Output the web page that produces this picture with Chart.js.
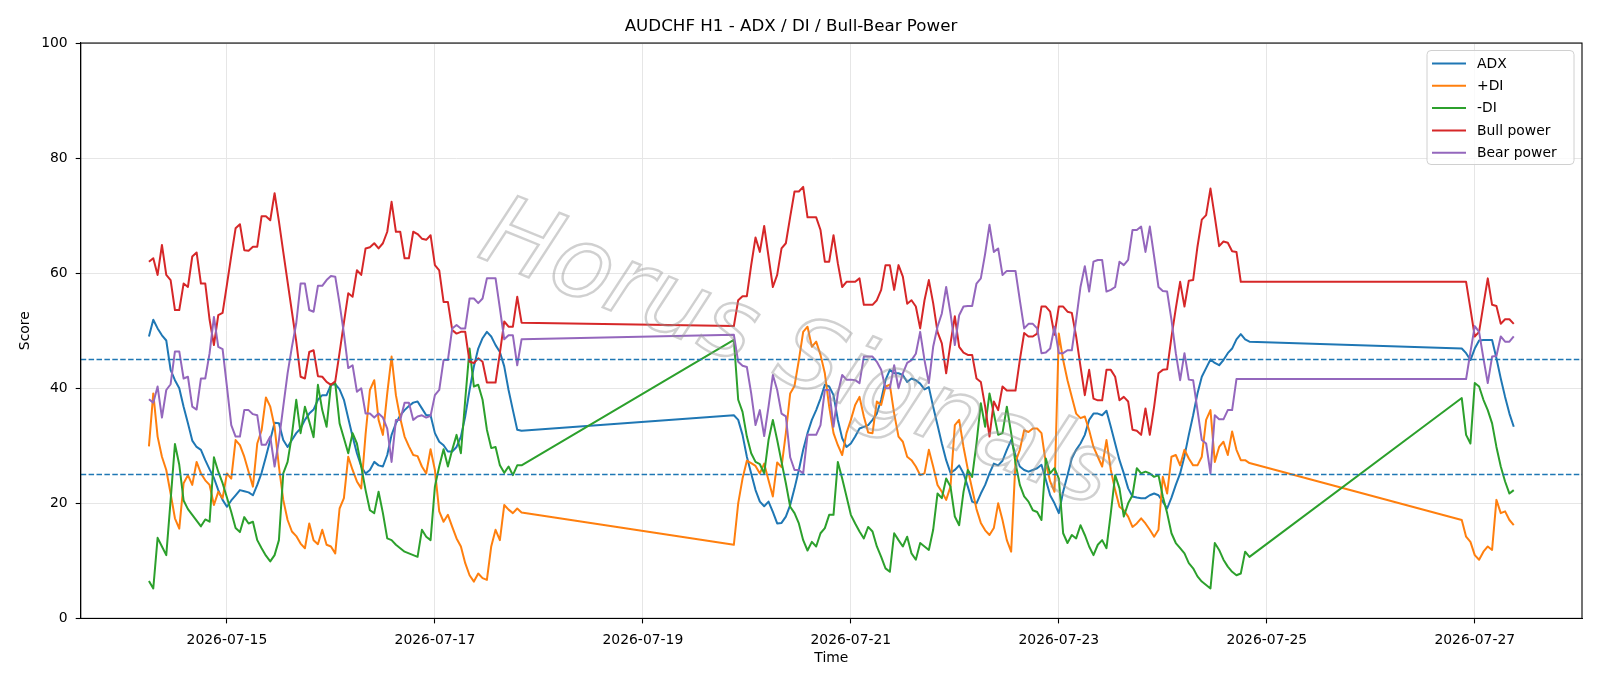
<!DOCTYPE html>
<html>
<head>
<meta charset="utf-8">
<script src="https://cdn.jsdelivr.net/npm/chart.js@4.4.1/dist/chart.umd.min.js"></script>
<style>
  html, body { margin: 0; padding: 0; background: #ffffff; }
  #wrap { width: 1600px; height: 686px; }
</style>
</head>
<body>
<div id="wrap"><canvas id="c" width="1600" height="686"></canvas></div>
<script>
// ---------------- data ----------------
const segmentStarts  = ["2026-07-14T06:00:00Z", "2026-07-19T21:00:00Z", "2026-07-26T21:00:00Z"];
const segmentLengths = [87, 120, 13];   // hourly bars per trading block

const xTickLabels = ["2026-07-15", "2026-07-17", "2026-07-19", "2026-07-21", "2026-07-23", "2026-07-25", "2026-07-27"];
const yTickValues = [0, 20, 40, 60, 80, 100];
const thresholds  = [25, 45];

const adx = [
  49.0, 51.9, 50.4, 49.2, 48.3, 43.2, 41.4, 40.0, 36.8, 33.9,
  30.9, 29.8, 29.3, 27.5, 25.9, 24.4, 22.3, 20.6, 19.4, 20.5,
  21.4, 22.3, 22.1, 21.9, 21.4, 23.2, 25.3, 28.1, 31.0, 34.0,
  33.9, 31.0, 29.8, 31.0, 32.2, 33.0, 34.5, 35.6, 36.3, 38.0,
  38.8, 38.8, 40.6, 40.7, 39.8, 38.0, 34.8, 31.6, 28.7, 26.4,
  25.2, 25.8, 27.2, 26.6, 26.4, 28.4, 31.9, 33.9, 35.3, 36.2,
  36.9, 37.5, 37.7, 36.5, 35.3, 35.3, 32.2, 30.7, 30.1, 29.0,
  29.0, 29.8, 31.6, 35.1, 39.7, 43.8, 46.9, 48.7, 49.8, 49.0,
  47.5, 46.3, 43.8, 39.7, 36.2, 32.8, 32.6,
  35.3, 34.5, 31.9, 28.1, 25.2, 22.3, 20.3, 19.5, 20.3, 18.5,
  16.5, 16.6, 17.7, 19.7, 22.6, 25.8, 29.3, 32.2, 34.5, 36.2,
  38.2, 40.6, 40.3, 38.8, 34.5, 31.3, 29.8, 30.4, 31.6, 33.0,
  33.3, 33.6, 34.5, 35.6, 38.0, 41.4, 43.2, 42.6, 42.6, 42.3,
  41.1, 41.7, 41.4, 40.8, 39.8, 40.2, 36.8, 33.6, 30.4, 27.5,
  25.3, 25.8, 26.6, 25.2, 22.9, 20.3, 20.0, 21.7, 23.2, 25.2,
  26.9, 26.6, 27.4, 29.3, 31.0, 28.4, 26.4, 25.8, 25.5, 25.8,
  26.1, 26.7, 24.1, 21.4, 20.0, 18.3, 22.0, 24.9, 27.8, 29.3,
  30.4, 31.9, 34.5, 35.6, 35.6, 35.3, 36.1, 33.3, 30.4, 27.5,
  25.2, 22.6, 21.2, 21.0, 20.9, 20.9, 21.4, 21.7, 21.4, 20.3,
  19.1, 21.0, 23.2, 25.2, 28.2, 31.9, 35.3, 39.1, 42.0, 43.5,
  45.0, 44.4, 44.0, 44.9, 46.1, 46.9, 48.5, 49.4, 48.5, 48.1,
  46.9, 46.1, 44.9, 46.9, 48.3, 48.4, 48.4, 48.4, 45.2, 41.7, 38.5, 35.6, 33.3
];

const plusDI = [
  29.9, 39.1, 31.6, 28.1, 25.8, 21.7, 17.4, 15.6, 23.5, 24.9,
  23.2, 27.2, 25.2, 24.0, 23.2, 19.7, 22.0, 20.9, 25.2, 24.3,
  31.0, 30.1, 28.1, 25.5, 22.9, 30.4, 32.7, 38.4, 36.8, 33.3,
  26.4, 20.6, 17.1, 15.1, 14.3, 13.0, 12.2, 16.5, 13.6, 12.9,
  15.4, 12.8, 12.5, 11.3, 19.1, 20.9, 28.1, 25.8, 23.8, 22.6,
  32.0, 39.7, 41.4, 34.5, 31.9, 39.1, 45.5, 38.8, 34.8, 31.6,
  29.9, 28.4, 28.2, 26.4, 25.2, 29.4, 25.8, 18.6, 16.8, 18.0,
  15.9, 13.9, 12.5, 9.6, 7.5, 6.4, 7.8, 7.0, 6.7, 12.5,
  15.4, 13.6, 19.7, 18.9, 18.3, 19.1, 18.4,
  12.8, 20.0, 24.3, 27.4, 27.0, 26.5, 25.2, 26.9, 24.0, 21.2,
  27.1, 26.3, 32.2, 39.1, 40.4, 44.9, 49.8, 50.7, 47.2, 48.1,
  45.8, 42.6, 36.8, 32.2, 30.1, 28.4, 32.2, 34.5, 37.1, 38.5,
  35.1, 32.3, 32.2, 37.7, 37.1, 40.3, 40.6, 35.6, 31.6, 30.7,
  28.1, 27.5, 26.4, 24.9, 25.2, 29.3, 26.4, 23.2, 22.0, 20.6,
  22.9, 33.6, 34.5, 29.8, 25.9, 22.5, 19.0, 16.6, 15.3, 14.5,
  15.7, 20.0, 17.1, 13.6, 11.6, 27.2, 29.3, 32.7, 32.4, 33.0,
  33.0, 32.2, 27.0, 23.8, 22.0, 49.5, 44.9, 41.4, 38.5, 35.6,
  34.8, 35.1, 32.7, 29.8, 28.1, 26.4, 31.0, 25.8, 22.3, 19.4,
  18.8, 17.7, 15.9, 16.5, 17.4, 16.5, 15.4, 14.2, 15.4, 24.6,
  21.7, 28.1, 28.4, 26.6, 29.3, 27.8, 26.6, 26.6, 28.1, 34.5,
  36.2, 27.2, 29.8, 30.7, 28.4, 32.5, 29.3, 27.5, 27.5, 27.0,
  17.1, 14.2, 13.3, 11.0, 10.2, 11.6, 12.5, 11.9, 20.6, 18.3, 18.6, 17.1, 16.2
];

const minusDI = [
  6.5, 5.2, 14.0, 12.5, 11.0, 20.5, 30.3, 26.7, 20.5, 19.0,
  18.0, 17.0, 16.0, 17.2, 16.8, 28.0, 25.5, 23.5, 21.0, 18.5,
  15.7, 15.0, 17.6, 16.5, 16.8, 13.6, 12.2, 10.9, 9.9, 11.0,
  13.6, 25.2, 27.2, 31.9, 38.0, 32.2, 36.8, 34.2, 31.5, 40.6,
  36.2, 33.3, 40.6, 40.9, 33.9, 31.3, 28.7, 32.2, 30.4, 26.4,
  22.3, 18.8, 18.3, 22.0, 18.3, 13.9, 13.6, 12.8, 12.2, 11.6,
  11.3, 11.0, 10.7, 15.4, 14.2, 13.6, 22.9, 26.4, 29.4, 26.4,
  29.3, 31.9, 28.7, 38.0, 46.9, 40.3, 40.6, 38.0, 32.8, 29.6,
  29.8, 26.6, 25.3, 26.4, 24.9, 26.6, 26.6,
  48.4, 38.0, 35.9, 31.6, 28.7, 27.2, 26.8, 25.2, 31.0, 34.5,
  31.0, 27.2, 23.5, 19.4, 18.3, 16.5, 13.6, 11.8, 13.3, 12.5,
  14.8, 15.7, 18.0, 18.0, 27.2, 24.3, 21.2, 18.0, 16.5, 15.1,
  13.9, 15.9, 15.1, 12.5, 10.7, 8.7, 8.1, 14.8, 13.6, 12.5,
  14.2, 11.3, 10.2, 13.1, 12.5, 11.9, 15.4, 21.7, 20.9, 24.3,
  22.9, 17.7, 16.2, 22.0, 25.8, 24.6, 30.4, 37.4, 33.3, 39.1,
  35.6, 31.9, 32.2, 36.8, 32.2, 27.0, 23.2, 21.2, 20.3, 18.8,
  18.5, 17.1, 27.8, 25.2, 26.1, 24.3, 14.8, 13.1, 14.5, 13.9,
  16.2, 14.5, 12.5, 11.0, 12.8, 13.6, 12.2, 18.3, 24.9, 22.6,
  17.7, 20.0, 21.4, 26.1, 25.2, 25.5, 25.2, 24.6, 24.9, 21.2,
  18.3, 14.8, 13.1, 12.2, 11.3, 9.6, 8.7, 7.3, 6.4, 5.8,
  5.2, 13.1, 11.9, 10.2, 9.0, 8.1, 7.5, 7.8, 11.6, 10.7,
  38.3, 31.9, 30.4, 40.9, 40.3, 38.0, 36.2, 33.9, 29.8, 26.4, 23.8, 21.7, 22.3
];

const bullPower = [
  62.0, 62.6, 59.7, 64.9, 59.7, 58.8, 53.6, 53.6, 58.2, 57.6,
  62.9, 63.6, 58.2, 58.2, 51.9, 47.5, 52.7, 53.1, 58.0, 63.0,
  67.8, 68.5, 64.0, 63.9, 64.6, 64.6, 69.9, 69.9, 69.2, 73.9,
  69.0, 63.7, 58.5, 53.3, 48.1, 42.0, 41.7, 46.3, 46.6, 42.1,
  42.0, 41.1, 40.6, 41.2, 46.2, 51.4, 56.5, 55.9, 60.5, 59.7,
  64.3, 64.5, 65.2, 64.3, 65.2, 67.2, 72.4, 67.2, 67.2, 62.6,
  62.6, 67.2, 66.8, 66.0, 65.8, 66.6, 61.4, 60.5, 55.0, 55.0,
  50.1, 49.5, 49.8, 49.8, 44.6, 44.4, 45.2, 44.6, 41.0, 41.0,
  41.0, 46.1, 51.6, 50.7, 50.7, 55.9, 51.4,
  50.8, 55.3, 56.0, 56.0, 61.4, 66.2, 63.7, 68.2, 62.9, 57.6,
  59.7, 64.3, 65.2, 69.8, 74.2, 74.2, 75.0, 69.7, 69.7, 69.7,
  67.5, 62.0, 62.0, 66.6, 61.7, 57.6, 58.5, 58.5, 58.5, 59.1,
  54.5, 54.5, 54.5, 55.3, 57.1, 61.4, 61.4, 57.1, 61.4, 59.4,
  54.7, 55.3, 54.2, 50.4, 55.3, 58.8, 54.8, 49.8, 47.8, 42.6,
  47.8, 52.5, 47.2, 46.2, 45.8, 45.8, 41.7, 41.1, 36.8, 31.6,
  37.7, 36.2, 40.3, 39.6, 39.6, 39.6, 44.9, 49.6, 49.0, 49.0,
  49.5, 54.2, 54.2, 53.3, 49.3, 54.2, 54.2, 53.3, 53.1, 49.0,
  43.8, 38.8, 43.2, 38.2, 37.9, 37.9, 43.2, 43.2, 42.0, 37.9,
  38.5, 37.7, 32.8, 32.6, 31.9, 36.5, 31.9, 36.8, 42.6, 43.2,
  43.3, 48.9, 53.9, 58.5, 54.2, 58.7, 58.8, 64.6, 69.3, 70.1,
  74.7, 69.8, 64.7, 65.5, 65.3, 63.8, 63.7, 58.5, 58.5, 58.5,
  58.5, 58.5, 53.8, 49.0, 49.8, 54.5, 59.1, 54.5, 54.3, 51.2, 52.0, 52.0, 51.2
];

const bearPower = [
  38.1, 37.5, 40.3, 34.9, 39.7, 40.7, 46.4, 46.4, 41.7, 42.0,
  36.8, 36.3, 41.7, 41.7, 46.1, 52.4, 47.2, 46.8, 40.3, 33.6,
  31.6, 31.6, 36.2, 36.2, 35.5, 35.3, 30.2, 30.2, 31.6, 26.4,
  31.0, 36.8, 42.6, 47.2, 51.3, 58.2, 58.2, 53.6, 53.3, 57.8,
  57.8, 58.8, 59.5, 59.4, 54.7, 49.5, 43.5, 44.0, 39.4, 40.0,
  35.6, 35.6, 34.9, 35.6, 34.9, 33.0, 27.2, 34.5, 34.5, 37.5,
  37.5, 34.5, 35.1, 35.3, 34.9, 35.2, 38.8, 39.7, 44.9, 44.9,
  50.4, 51.0, 50.4, 50.4, 55.6, 55.6, 54.8, 55.6, 59.1, 59.1,
  59.1, 53.9, 48.5, 49.2, 49.2, 44.0, 48.5,
  49.3, 44.6, 43.9, 43.7, 39.1, 33.6, 36.2, 31.7, 36.8, 42.3,
  39.7, 35.6, 35.1, 28.0, 25.8, 25.8, 25.2, 31.9, 31.9, 31.9,
  33.6, 39.7, 39.7, 33.3, 39.1, 42.3, 41.5, 41.5, 41.4, 40.9,
  45.5, 45.5, 45.5, 44.6, 43.2, 40.0, 40.0, 44.0, 40.0, 42.6,
  44.4, 44.9, 46.0, 49.8, 44.9, 40.9, 47.2, 50.7, 53.0, 57.6,
  53.0, 47.5, 52.7, 54.2, 54.3, 54.3, 58.2, 59.1, 63.4, 68.4,
  63.7, 64.3, 59.7, 60.4, 60.4, 60.4, 55.3, 50.4, 51.2, 51.2,
  50.4, 46.1, 46.2, 46.9, 50.7, 46.1, 46.1, 46.6, 46.6, 51.9,
  57.6, 61.2, 56.8, 62.0, 62.3, 62.3, 56.8, 57.1, 57.6, 62.0,
  61.4, 62.3, 67.5, 67.5, 68.1, 63.7, 68.1, 62.9, 57.6, 56.9,
  56.8, 51.9, 46.1, 41.4, 46.1, 41.5, 41.4, 36.2, 31.0, 30.4,
  25.2, 35.3, 34.6, 34.6, 36.2, 36.2, 41.6, 41.6, 41.6, 41.6,
  41.6, 41.6, 46.3, 50.8, 49.8, 45.2, 40.9, 45.5, 45.6, 49.0, 48.1, 48.1, 49.0
];

// ---------------- build ----------------
const HOUR = 3600 * 1000;
const times = [];
segmentStarts.forEach((s, i) => {
  const t0 = Date.parse(s);
  for (let k = 0; k < segmentLengths[i]; k++) times.push(t0 + k * HOUR);
});
const xMin = Date.parse("2026-07-13T14:15:00Z");
const xMax = Date.parse("2026-07-28T00:45:00Z");

const FONT = "'DejaVu Sans', 'Liberation Sans', sans-serif";
const series = [
  { label: "ADX",        values: adx,       color: "#1f77b4" },
  { label: "+DI",        values: plusDI,    color: "#ff7f0e" },
  { label: "-DI",        values: minusDI,   color: "#2ca02c" },
  { label: "Bull power", values: bullPower, color: "#d62728" },
  { label: "Bear power", values: bearPower, color: "#9467bd" }
];

const datasets = series.map((s, i) => ({
  label: s.label,
  data: s.values.map((v, k) => ({ x: times[k], y: v })),
  borderColor: s.color,
  backgroundColor: s.color,
  borderWidth: 2,
  pointRadius: 0,
  pointHoverRadius: 0,
  tension: 0,
  fill: false,
  borderJoinStyle: "round",
  order: 10 - i
}));
thresholds.forEach(t => {
  datasets.push({
    label: "thr" + t,
    data: [{ x: xMin, y: t }, { x: xMax, y: t }],
    borderColor: "#1f77b4",
    borderWidth: 1.5,
    borderDash: [5.5, 2.4],
    pointRadius: 0,
    fill: false,
    order: 0
  });
});

const spinesPlugin = {
  id: "spines",
  afterDatasetsDraw(chart) {
    const { ctx, chartArea: a } = chart;
    ctx.save();
    ctx.strokeStyle = "#000";
    ctx.lineWidth = 1.1;
    ctx.strokeRect(a.left, a.top, a.right - a.left, a.bottom - a.top);
    ctx.restore();
  }
};

const watermarkPlugin = {
  id: "watermark",
  afterDatasetsDraw(chart) {
    const { ctx, chartArea: a } = chart;
    ctx.save();
    ctx.beginPath();
    ctx.rect(a.left, a.top, a.right - a.left, a.bottom - a.top);
    ctx.clip();
    ctx.translate(796, 358);
    ctx.rotate(22 * Math.PI / 180);
    ctx.font = "oblique 98px " + FONT;
    ctx.textAlign = "center";
    ctx.textBaseline = "middle";
    ctx.lineWidth = 2.4;
    ctx.strokeStyle = "rgba(150,150,150,0.45)";
    ctx.strokeText("Horus Signals", 0, 0);
    ctx.restore();
  }
};

const legendPlugin = {
  id: "customLegend",
  afterDraw(chart) {
    const { ctx } = chart;
    const x = 1427, y = 50.5, w = 147, h = 114, r = 4;
    ctx.save();
    ctx.beginPath();
    ctx.moveTo(x + r, y);
    ctx.lineTo(x + w - r, y); ctx.quadraticCurveTo(x + w, y, x + w, y + r);
    ctx.lineTo(x + w, y + h - r); ctx.quadraticCurveTo(x + w, y + h, x + w - r, y + h);
    ctx.lineTo(x + r, y + h); ctx.quadraticCurveTo(x, y + h, x, y + h - r);
    ctx.lineTo(x, y + r); ctx.quadraticCurveTo(x, y, x + r, y);
    ctx.closePath();
    ctx.fillStyle = "rgba(255,255,255,0.8)";
    ctx.fill();
    ctx.strokeStyle = "#d0d0d0";
    ctx.lineWidth = 1;
    ctx.stroke();
    ctx.font = "13.9px " + FONT;
    ctx.textBaseline = "middle";
    ctx.textAlign = "left";
    series.forEach((s, i) => {
      const cy = 63.5 + i * 22.3;
      ctx.strokeStyle = s.color;
      ctx.lineWidth = 2;
      ctx.beginPath();
      ctx.moveTo(1432, cy);
      ctx.lineTo(1466, cy);
      ctx.stroke();
      ctx.fillStyle = "#000";
      ctx.fillText(s.label, 1477, cy + 0.5);
    });
    ctx.restore();
  }
};

const fmtDate = v => new Date(v).toISOString().slice(0, 10);

new Chart(document.getElementById("c"), {
  type: "line",
  data: { datasets },
  options: {
    responsive: false,
    animation: false,
    devicePixelRatio: 1,
    layout: { padding: { left: 0, right: 18, top: 0, bottom: 0 } },
    plugins: {
      legend: { display: false },
      tooltip: { enabled: false },
      title: {
        display: true,
        text: "AUDCHF H1 - ADX / DI / Bull-Bear Power",
        color: "#000",
        font: { family: FONT, size: 16.7, weight: "normal", lineHeight: 1.2 },
        padding: { top: 17, bottom: 6 }
      }
    },
    scales: {
      x: {
        type: "linear",
        min: xMin,
        max: xMax,
        afterBuildTicks: s => { s.ticks = xTickLabels.map(d => ({ value: Date.parse(d + "T00:00:00Z") })); },
        afterFit: s => { s.height = 67.6; },
        ticks: {
          callback: v => fmtDate(v),
          color: "#000",
          font: { family: FONT, size: 13.9 },
          padding: 9,
          maxRotation: 0,
          autoSkip: false
        },
        grid: { color: "#e6e6e6", lineWidth: 1, tickColor: "#000", tickLength: 5, tickWidth: 1.1 },
        border: { display: true, color: "#000", width: 1.1 },
        title: {
          display: true, text: "Time", color: "#000",
          font: { family: FONT, size: 13.9, lineHeight: 1.2 },
          padding: { top: 0, bottom: 19 }
        }
      },
      y: {
        min: 0,
        max: 100,
        afterBuildTicks: s => { s.ticks = yTickValues.map(v => ({ value: v })); },
        afterFit: s => { s.width = 80.7; },
        ticks: {
          color: "#000",
          font: { family: FONT, size: 13.9 },
          padding: 8
        },
        grid: { color: "#e6e6e6", lineWidth: 1, tickColor: "#000", tickLength: 5, tickWidth: 1.1 },
        border: { display: true, color: "#000", width: 1.1 },
        title: {
          display: true, text: "Score", color: "#000",
          font: { family: FONT, size: 13.9, lineHeight: 1.2 },
          padding: { top: 17, bottom: 0 }
        }
      }
    }
  },
  plugins: [watermarkPlugin, spinesPlugin, legendPlugin]
});
</script>
</body>
</html>
